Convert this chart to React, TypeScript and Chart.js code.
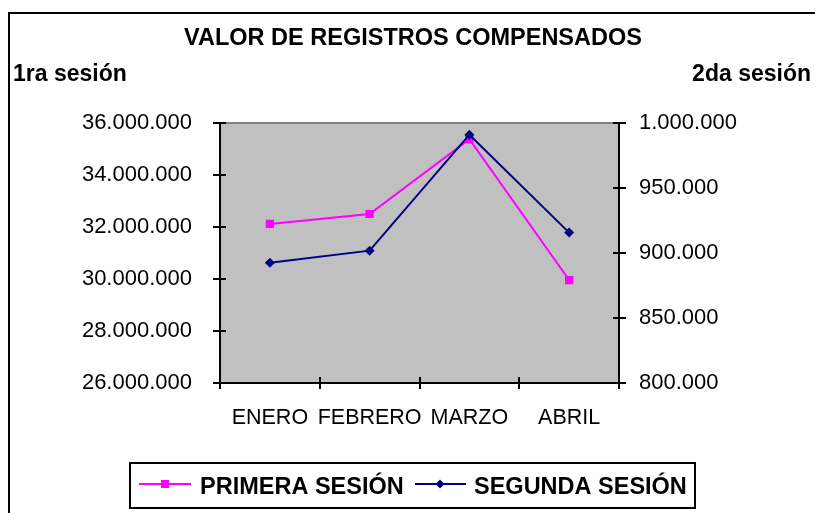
import React, { useEffect, useRef } from "react";
import { Chart, registerables } from "chart.js";

Chart.register(...registerables);

const TITLE = "VALOR DE REGISTROS COMPENSADOS";
const LEFT_AXIS_LABEL = "1ra sesión";
const RIGHT_AXIS_LABEL = "2da sesión";
const MONTHS = ["ENERO", "FEBRERO", "MARZO", "ABRIL"];
const PRIMERA_NAME = "PRIMERA SESIÓN";
const SEGUNDA_NAME = "SEGUNDA SESIÓN";
const PRIMERA = [32120000, 32500000, 35380000, 29960000];
const SEGUNDA = [892500, 901800, 991000, 915700];
const LEFT_MIN = 26000000;
const LEFT_MAX = 36000000;
const LEFT_STEP = 2000000;
const RIGHT_MIN = 800000;
const RIGHT_MAX = 1000000;
const RIGHT_STEP = 50000;

const FONT = "'Liberation Sans', Arial, sans-serif";
const PINK = "#FF00FF";
const NAVY = "#000080";

function fmt(v: number): string {
  return Math.round(v)
    .toString()
    .replace(/\B(?=(\d{3})+(?!\d))/g, ".");
}

const decorPlugin = {
  id: "decor",
  beforeDraw(chart: any) {
    const { ctx, chartArea } = chart;
    ctx.save();
    ctx.fillStyle = "#FFFFFF";
    ctx.fillRect(0, 0, chart.width, chart.height);
    ctx.fillStyle = "#C0C0C0";
    ctx.fillRect(
      chartArea.left,
      chartArea.top,
      chartArea.right - chartArea.left,
      chartArea.bottom - chartArea.top
    );
    ctx.strokeStyle = "#808080";
    ctx.lineWidth = 2;
    ctx.beginPath();
    ctx.moveTo(chartArea.left, chartArea.top);
    ctx.lineTo(chartArea.right, chartArea.top);
    ctx.stroke();
    // outer frame
    ctx.strokeStyle = "#000";
    ctx.lineWidth = 2;
    ctx.beginPath();
    ctx.moveTo(9, chart.height + 2);
    ctx.lineTo(9, 13);
    ctx.lineTo(chart.width + 2, 13);
    ctx.stroke();
    ctx.restore();
  },
  beforeDatasetsDraw(chart: any) {
    const { ctx, chartArea, scales } = chart;
    ctx.save();
    ctx.strokeStyle = "#000";
    ctx.lineWidth = 2;
    ctx.beginPath();
    const yl = scales.y;
    yl.ticks.forEach((_t: any, i: number) => {
      const p = Math.round(yl.getPixelForTick(i));
      ctx.moveTo(chartArea.left, p);
      ctx.lineTo(chartArea.left + 6, p);
    });
    const yr = scales.y1;
    yr.ticks.forEach((_t: any, i: number) => {
      const p = Math.round(yr.getPixelForTick(i));
      ctx.moveTo(chartArea.right - 6, p);
      ctx.lineTo(chartArea.right, p);
    });
    const xs = scales.x;
    const n = xs.ticks.length;
    const w = (chartArea.right - chartArea.left) / n;
    for (let i = 0; i <= n; i++) {
      const p = Math.round(chartArea.left + i * w);
      ctx.moveTo(p, chartArea.bottom - 6);
      ctx.lineTo(p, chartArea.bottom);
    }
    ctx.stroke();
    ctx.restore();
  },
  afterDraw(chart: any) {
    const { ctx } = chart;
    ctx.save();
    ctx.fillStyle = "#000";
    ctx.textBaseline = "alphabetic";
    ctx.font = `bold 23.5px ${FONT}`;
    ctx.textAlign = "center";
    ctx.fillText(TITLE, 413, 45);
    ctx.font = `bold 23px ${FONT}`;
    ctx.textAlign = "left";
    ctx.fillText(LEFT_AXIS_LABEL, 13, 81);
    ctx.textAlign = "right";
    ctx.fillText(RIGHT_AXIS_LABEL, 811, 81);

    // legend
    ctx.strokeStyle = "#000";
    ctx.lineWidth = 2;
    ctx.strokeRect(130, 463, 565, 45);
    const ly = 484;
    ctx.lineWidth = 2;
    ctx.strokeStyle = PINK;
    ctx.beginPath();
    ctx.moveTo(139, ly);
    ctx.lineTo(191, ly);
    ctx.stroke();
    ctx.fillStyle = PINK;
    ctx.fillRect(165 - 4, ly - 4, 8, 8);
    ctx.strokeStyle = NAVY;
    ctx.beginPath();
    ctx.moveTo(415, ly);
    ctx.lineTo(466, ly);
    ctx.stroke();
    ctx.fillStyle = NAVY;
    ctx.beginPath();
    ctx.moveTo(440, ly - 4.5);
    ctx.lineTo(444.5, ly);
    ctx.lineTo(440, ly + 4.5);
    ctx.lineTo(435.5, ly);
    ctx.closePath();
    ctx.fill();
    ctx.fillStyle = "#000";
    ctx.font = `bold 23.5px ${FONT}`;
    ctx.textAlign = "left";
    ctx.fillText(PRIMERA_NAME, 200, 494);
    ctx.fillText(SEGUNDA_NAME, 474, 494);
    ctx.restore();
  },
};

export default function App() {
  const ref = useRef<HTMLCanvasElement>(null);

  useEffect(() => {
    if (!ref.current) return;
    const chart = new Chart(ref.current, {
      type: "line",
      data: {
        labels: MONTHS,
        datasets: [
          {
            label: PRIMERA_NAME,
            data: PRIMERA,
            yAxisID: "y",
            borderColor: PINK,
            backgroundColor: PINK,
            borderWidth: 2,
            pointStyle: "rect",
            pointRadius: 5.8,
            pointBorderWidth: 0,
            pointBackgroundColor: PINK,
            tension: 0,
            order: 1,
          },
          {
            label: SEGUNDA_NAME,
            data: SEGUNDA,
            yAxisID: "y1",
            borderColor: NAVY,
            backgroundColor: NAVY,
            borderWidth: 2,
            pointStyle: "rectRot",
            pointRadius: 5,
            pointBorderWidth: 0,
            pointBackgroundColor: NAVY,
            tension: 0,
            order: 0,
          },
        ],
      },
      options: {
        animation: false,
        responsive: false,
        devicePixelRatio: 1,
        layout: { padding: { top: 123, left: 0, right: 0, bottom: 0 } },
        plugins: {
          legend: { display: false },
          title: { display: false },
          tooltip: { enabled: false },
        },
        scales: {
          x: {
            type: "category",
            position: "bottom",
            offset: true,
            grid: {
              offset: true,
              drawOnChartArea: false,
              drawTicks: true,
              tickLength: 6,
              color: "#000",
              lineWidth: 2,
            },
            border: { color: "#000", width: 2 },
            ticks: {
              color: "#000",
              font: { family: FONT, size: 21.5 },
              padding: 16,
              maxRotation: 0,
              autoSkip: false,
            },
            afterFit(scale: any) {
              scale.height = 130;
            },
          },
          y: {
            type: "linear",
            position: "left",
            min: LEFT_MIN,
            max: LEFT_MAX,
            grid: {
              drawOnChartArea: false,
              drawTicks: true,
              tickLength: 7,
              color: "#000",
              lineWidth: 2,
            },
            border: { color: "#000", width: 2 },
            ticks: {
              stepSize: LEFT_STEP,
              color: "#000",
              font: { family: FONT, size: 22 },
              padding: 21,
              callback: (v: any) => fmt(Number(v)),
            },
            afterFit(scale: any) {
              scale.width = 220;
            },
          },
          y1: {
            type: "linear",
            position: "right",
            min: RIGHT_MIN,
            max: RIGHT_MAX,
            grid: {
              drawOnChartArea: false,
              drawTicks: true,
              tickLength: 7,
              color: "#000",
              lineWidth: 2,
            },
            border: { color: "#000", width: 2 },
            ticks: {
              stepSize: RIGHT_STEP,
              color: "#000",
              font: { family: FONT, size: 22 },
              padding: 13,
              callback: (v: any) => fmt(Number(v)),
            },
            afterFit(scale: any) {
              scale.width = 196;
            },
          },
        },
      },
      plugins: [decorPlugin],
    } as any);
    return () => chart.destroy();
  }, []);

  return (
    <div style={{ position: "fixed", left: 0, top: 0, width: 815, height: 513 }}>
      <canvas ref={ref} width={815} height={513} style={{ width: 815, height: 513, display: "block" }} />
    </div>
  );
}
